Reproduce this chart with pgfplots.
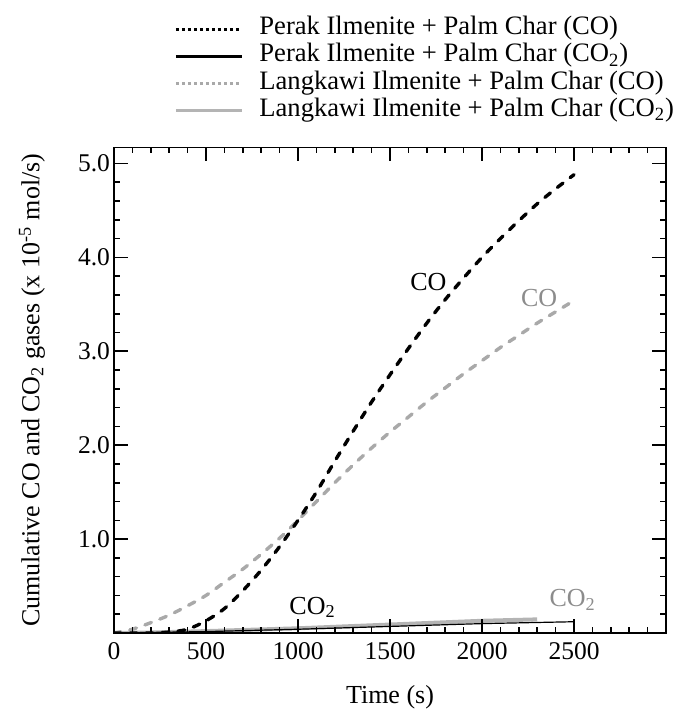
\documentclass[border=0pt]{standalone}
\usepackage{fontspec}
\setmainfont{Liberation Serif}
\usepackage{pgfplots}
\pgfplotsset{compat=1.18}
\definecolor{lgray}{HTML}{A9A9A9}
\definecolor{bgray}{HTML}{B4B4B4}
\definecolor{tgray}{HTML}{8C8C8C}

\begin{document}
\begin{tikzpicture}
\path[use as bounding box] (0,0) rectangle (341pt,355pt);
\begin{axis}[
  at={(57pt,38.5pt)}, anchor=south west,
  scale only axis, width=276pt, height=242.75pt,
  xmin=0, xmax=3000, ymin=0, ymax=5.17,
  xtick={0,500,...,2500},
  xticklabels={0,500,1000,1500,2000,2500},
  minor xtick={100,200,...,2900},
  ytick={0,1,...,5},
  yticklabels={,1.0,2.0,3.0,4.0,5.0},
  minor y tick num=4,
  tick align=inside, tick pos=both,
  major tick length=7pt, minor tick length=3pt,
  axis line style={line width=0.8pt},
  every tick/.style={line width=0.8pt, black},
  tick label style={font=\fontsize{12.75}{14}\selectfont},
  xticklabel style={yshift=-1pt},
  yticklabel style={xshift=1.5pt},
  xlabel={Time (s)},
  ylabel={Cumulative CO and CO\textsubscript{2} gases (x 10\textsuperscript{-5} mol/s)},
  label style={font=\fontsize{13}{15}\selectfont},
  xlabel style={at={(axis description cs:0.5,-0.132)}, anchor=center},
  ylabel style={at={(axis description cs:-0.1486,0.5)}, anchor=center},
  axis on top,
  legend image code/.code={\draw[#1] (0pt,0pt) -- (33pt,0pt);},
  legend cell align=left,
  legend style={at={(axis description cs:0.1087,1.2727)}, anchor=north west,
    draw=none, fill=none, inner sep=0pt, row sep=0pt, column sep=8pt,
    font=\fontsize{13.3}{13}\selectfont,
    nodes={inner sep=0pt, text height=9.6pt, text depth=4pt}},
]
\addlegendimage{black, line width=1.5pt, dash pattern=on 1.5pt off 1.5pt}
\addlegendentry{Perak Ilmenite + Palm Char (CO)}
\addlegendimage{black, line width=1.5pt}
\addlegendentry{Perak Ilmenite + Palm Char (CO\textsubscript{2})}
\addlegendimage{lgray, line width=1.2pt, dash pattern=on 1.5pt off 1.5pt}
\addlegendentry{Langkawi Ilmenite + Palm Char (CO)}
\addlegendimage{bgray, line width=1.5pt}
\addlegendentry{Langkawi Ilmenite + Palm Char (CO\textsubscript{2})}

% Langkawi CO2
\addplot[bgray, line width=2pt, forget plot] coordinates {
  (0,0) (200,0.005) (500,0.02) (1000,0.05) (1500,0.09) (2000,0.13) (2300,0.145)
};
% Perak CO2
\addplot[black, line width=0.6pt, forget plot] coordinates {
  (0,0) (500,0.015) (1000,0.04) (1500,0.07) (2000,0.10) (2500,0.12)
};
% Langkawi CO
\addplot[lgray, line width=1.7pt, line cap=round, dash pattern=on 3.5pt off 4.5pt, smooth, forget plot] coordinates {
  (0,0) (100,0.04) (200,0.11) (300,0.19) (400,0.29) (500,0.40) (600,0.54)
  (700,0.68) (800,0.84) (900,1.01) (1000,1.20) (1100,1.40) (1200,1.60)
  (1300,1.79) (1400,1.97) (1500,2.14) (1600,2.30) (1700,2.46) (1800,2.61)
  (1900,2.76) (2000,2.90) (2100,3.04) (2200,3.17) (2300,3.30) (2400,3.42)
  (2500,3.54)
};
% Perak CO
\addplot[black, line width=1.7pt, line cap=round, dash pattern=on 3.5pt off 4.5pt, smooth, forget plot] coordinates {
  (0,0) (200,0) (300,0.01) (400,0.04) (500,0.13) (600,0.26) (700,0.45)
  (800,0.67) (900,0.92) (1000,1.20) (1100,1.50) (1200,1.83) (1300,2.15)
  (1400,2.46) (1500,2.75) (1600,3.03) (1700,3.30) (1800,3.55) (1900,3.78)
  (2000,4.00) (2100,4.20) (2200,4.39) (2300,4.57) (2400,4.73) (2500,4.88)
};

\node[anchor=base west, font=\fontsize{13}{15}\selectfont] at (axis cs:1572,3.65) {CO};
\node[anchor=base west, font=\fontsize{13}{15}\selectfont, text=tgray] at (axis cs:2174,3.48) {CO};
\node[anchor=base west, font=\fontsize{13}{15}\selectfont] at (axis cs:915,0.20) {CO\textsubscript{2}};
\node[anchor=base west, font=\fontsize{13}{15}\selectfont, text=tgray] at (axis cs:2329,0.28) {CO\textsubscript{2}};
\end{axis}
\end{tikzpicture}
\end{document}
